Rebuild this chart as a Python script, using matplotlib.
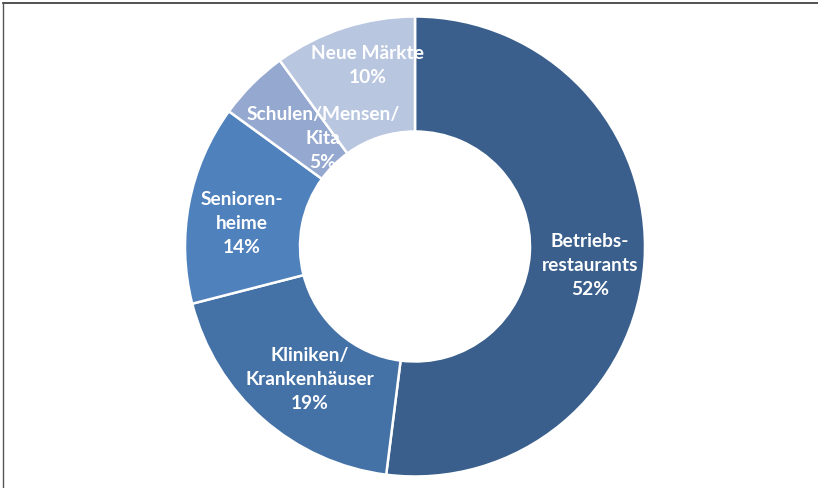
import matplotlib.pyplot as plt

labels = ["Betriebs-\nrestaurants", "Kliniken/\nKrankenhäuser", "Senioren-\nheime",
          "Schulen/Mensen/\nKita", "Neue Märkte"]
shares = [52, 19, 14, 5, 10]
colors = ["#3A5F8C", "#4472A7", "#4F81BD", "#95A8CF", "#B9C6E0"]

fig = plt.figure(figsize=(8.18, 4.89), dpi=100)
ax = fig.add_axes([0, 0, 1, 1])

texts = [f"{l}\n{s}%" for l, s in zip(labels, shares)]
wedges, lbls = ax.pie(shares, labels=texts, colors=colors, startangle=90,
                      counterclock=False, center=(415, 241.5), radius=230,
                      labeldistance=0.75, frame=True,
                      wedgeprops=dict(width=115, edgecolor="white", linewidth=1.8),
                      textprops=dict(color="white", fontsize=13.8, fontweight="bold",
                                     family="Lato", linespacing=1.5))
ax.set_xlim(0, 818)
ax.set_ylim(0, 489)
ax.set_aspect("equal")
ax.axis("off")

# nudge labels a little like the original
nudges = [(3, -7), (9, -3), (-4, -8), (30, -13), (6, 18)]
for t, (dx, dy) in zip(lbls, nudges):
    x, y = t.get_position()
    t.set_position((x + dx, y + dy))
    t.set_ha("center")
    t.set_va("center")
    t.set_multialignment("center")

# frame lines at the top and left
ax.plot([3, 818], [485, 485], color="#333333", lw=1.2, clip_on=False)
ax.plot([3, 3], [0, 485], color="#555555", lw=1.0, clip_on=False)

fig.savefig("out.png", dpi=100)
